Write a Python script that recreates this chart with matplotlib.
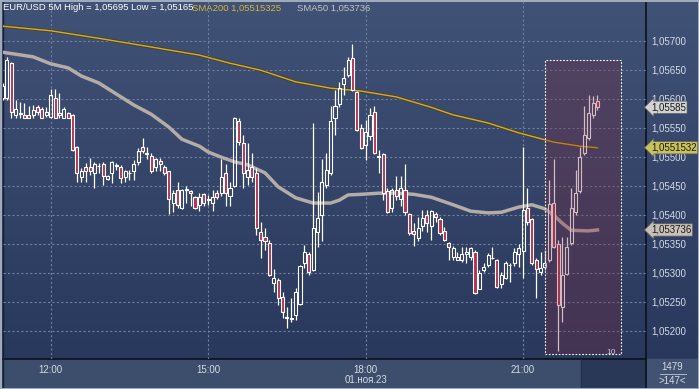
import matplotlib
matplotlib.use("Agg")
import matplotlib.pyplot as plt
import numpy as np
from matplotlib.patches import Rectangle
from matplotlib.colors import LinearSegmentedColormap
from matplotlib import font_manager
import matplotlib.transforms as mtransforms

# police étroite si disponible
names = {f.name for f in font_manager.fontManager.ttflist}
FONT = "Liberation Sans Narrow" if "Liberation Sans Narrow" in names else "Liberation Sans"
plt.rcParams["font.family"] = [FONT, "DejaVu Sans"]

# Données : bougies 5 min, index 0 = 12:00, la première bougie est à -11 (11:05)
first_bar = -11
opens = [
    1.05601, 1.05601, 1.05661, 1.05572, 1.05574, 1.05572, 1.05572, 1.05572, 1.05585, 1.05582,
    1.05572, 1.05568, 1.05601, 1.05572, 1.05567, 1.05575, 1.05572, 1.05517, 1.05465, 1.05482,
    1.05482, 1.05472, 1.05483, 1.05487, 1.05461, 1.05472, 1.05484, 1.05482, 1.05465, 1.05471,
    1.05475, 1.05491, 1.05517, 1.05505, 1.05501, 1.05482, 1.05492, 1.05482, 1.05475, 1.05420,
    1.05442, 1.05411, 1.05443, 1.05441, 1.05430, 1.05417, 1.05435, 1.05426, 1.05420, 1.05437,
    1.05437, 1.05472, 1.05432, 1.05449, 1.05561, 1.05523, 1.05465, 1.05482, 1.05472, 1.05370,
    1.05361, 1.05351, 1.05282, 1.05287, 1.05258, 1.05222, 1.05220, 1.05227, 1.05246, 1.05317,
    1.05332, 1.05304, 1.05370, 1.05399, 1.05451, 1.05472, 1.05567, 1.05591, 1.05625, 1.05641,
    1.05670, 1.05611, 1.05549, 1.05520, 1.05535, 1.05577, 1.05500, 1.05505, 1.05441, 1.05411,
    1.05442, 1.05427, 1.05442, 1.05401, 1.05372, 1.05360, 1.05380, 1.05399, 1.05380, 1.05401,
    1.05392, 1.05372, 1.05351, 1.05327, 1.05322, 1.05322, 1.05332, 1.05327, 1.05336, 1.05272,
    1.05304, 1.05313, 1.05325, 1.05322, 1.05280, 1.05291, 1.05313, 1.05317, 1.05332, 1.05337,
    1.05411, 1.05392, 1.05322, 1.05301, 1.05310, 1.05322, 1.05420, 1.05349, 1.05241, 1.05298,
    1.05351, 1.05404, 1.05441, 1.05506, 1.05532, 1.05572, 1.05596,
]
highs = [
    1.05627, 1.05672, 1.05663, 1.05598, 1.05594, 1.05592, 1.05587, 1.05589, 1.05589, 1.05585,
    1.05585, 1.05617, 1.05617, 1.05610, 1.05585, 1.05577, 1.05573, 1.05518, 1.05480, 1.05489,
    1.05498, 1.05491, 1.05489, 1.05491, 1.05468, 1.05492, 1.05489, 1.05485, 1.05477, 1.05477,
    1.05494, 1.05515, 1.05532, 1.05517, 1.05506, 1.05498, 1.05498, 1.05485, 1.05476, 1.05442,
    1.05456, 1.05444, 1.05449, 1.05442, 1.05432, 1.05437, 1.05437, 1.05434, 1.05442, 1.05442,
    1.05496, 1.05487, 1.05456, 1.05568, 1.05567, 1.05537, 1.05523, 1.05506, 1.05480, 1.05387,
    1.05377, 1.05356, 1.05306, 1.05291, 1.05267, 1.05241, 1.05256, 1.05273, 1.05313, 1.05348,
    1.05336, 1.05558, 1.05439, 1.05496, 1.05506, 1.05587, 1.05615, 1.05629, 1.05654, 1.05672,
    1.05695, 1.05613, 1.05556, 1.05563, 1.05584, 1.05587, 1.05511, 1.05506, 1.05446, 1.05446,
    1.05467, 1.05467, 1.05487, 1.05403, 1.05385, 1.05396, 1.05408, 1.05408, 1.05408, 1.05404,
    1.05396, 1.05379, 1.05353, 1.05346, 1.05336, 1.05344, 1.05344, 1.05344, 1.05339, 1.05304,
    1.05317, 1.05334, 1.05344, 1.05323, 1.05301, 1.05320, 1.05317, 1.05342, 1.05349, 1.05517,
    1.05446, 1.05394, 1.05325, 1.05336, 1.05339, 1.05460, 1.05496, 1.05356, 1.05361, 1.05361,
    1.05446, 1.05477, 1.05517, 1.05587, 1.05606, 1.05604, 1.05606,
]
lows = [
    1.05598, 1.05598, 1.05567, 1.05567, 1.05567, 1.05567, 1.05567, 1.05567, 1.05572, 1.05566,
    1.05568, 1.05567, 1.05566, 1.05567, 1.05566, 1.05566, 1.05510, 1.05456, 1.05456, 1.05456,
    1.05468, 1.05446, 1.05472, 1.05451, 1.05460, 1.05454, 1.05477, 1.05454, 1.05456, 1.05460,
    1.05460, 1.05485, 1.05506, 1.05496, 1.05472, 1.05475, 1.05475, 1.05468, 1.05401, 1.05404,
    1.05411, 1.05410, 1.05420, 1.05415, 1.05410, 1.05406, 1.05415, 1.05417, 1.05406, 1.05427,
    1.05432, 1.05415, 1.05415, 1.05448, 1.05520, 1.05446, 1.05451, 1.05456, 1.05365, 1.05325,
    1.05339, 1.05295, 1.05267, 1.05244, 1.05222, 1.05204, 1.05215, 1.05218, 1.05244, 1.05308,
    1.05296, 1.05303, 1.05344, 1.05354, 1.05446, 1.05468, 1.05537, 1.05585, 1.05606, 1.05637,
    1.05614, 1.05545, 1.05514, 1.05494, 1.05529, 1.05505, 1.05472, 1.05425, 1.05403, 1.05404,
    1.05425, 1.05415, 1.05399, 1.05365, 1.05346, 1.05354, 1.05372, 1.05370, 1.05356, 1.05387,
    1.05365, 1.05355, 1.05322, 1.05322, 1.05321, 1.05318, 1.05317, 1.05322, 1.05264, 1.05271,
    1.05301, 1.05310, 1.05324, 1.05273, 1.05273, 1.05289, 1.05284, 1.05311, 1.05310, 1.05291,
    1.05382, 1.05313, 1.05256, 1.05296, 1.05304, 1.05318, 1.05343, 1.05165, 1.05215, 1.05296,
    1.05348, 1.05399, 1.05437, 1.05503, 1.05529, 1.05567, 1.05580,
]
closes = [
    1.05622, 1.05667, 1.05577, 1.05582, 1.05576, 1.05567, 1.05567, 1.05580, 1.05577, 1.05567,
    1.05577, 1.05606, 1.05567, 1.05575, 1.05582, 1.05567, 1.05511, 1.05472, 1.05475, 1.05475,
    1.05475, 1.05487, 1.05484, 1.05467, 1.05467, 1.05491, 1.05485, 1.05463, 1.05475, 1.05472,
    1.05487, 1.05510, 1.05510, 1.05506, 1.05475, 1.05496, 1.05487, 1.05472, 1.05427, 1.05437,
    1.05417, 1.05442, 1.05444, 1.05437, 1.05411, 1.05430, 1.05420, 1.05427, 1.05430, 1.05430,
    1.05465, 1.05437, 1.05446, 1.05567, 1.05525, 1.05472, 1.05477, 1.05465, 1.05377, 1.05356,
    1.05354, 1.05296, 1.05291, 1.05256, 1.05232, 1.05224, 1.05222, 1.05267, 1.05311, 1.05336,
    1.05301, 1.05377, 1.05394, 1.05456, 1.05477, 1.05561, 1.05587, 1.05618, 1.05636, 1.05667,
    1.05615, 1.05546, 1.05515, 1.05542, 1.05572, 1.05506, 1.05501, 1.05437, 1.05404, 1.05442,
    1.05432, 1.05446, 1.05404, 1.05368, 1.05367, 1.05377, 1.05394, 1.05385, 1.05406, 1.05396,
    1.05368, 1.05356, 1.05344, 1.05342, 1.05327, 1.05332, 1.05336, 1.05342, 1.05265, 1.05299,
    1.05310, 1.05330, 1.05326, 1.05275, 1.05296, 1.05317, 1.05314, 1.05336, 1.05342, 1.05408,
    1.05387, 1.05317, 1.05306, 1.05308, 1.05317, 1.05418, 1.05344, 1.05244, 1.05296, 1.05344,
    1.05411, 1.05437, 1.05499, 1.05537, 1.05575, 1.05592, 1.05585,
]

# moyennes mobiles
sma200_bar = [-11, 0, 11, 23, 34, 41, 48, 56, 64, 71, 79, 87, 92, 100, 107, 115, 121, 125]
sma200_val = [1.05725, 1.05717, 1.05704, 1.05689, 1.05675, 1.05661, 1.05649, 1.05629, 1.05618,
              1.05613, 1.05603, 1.05585, 1.05572, 1.05558, 1.05541, 1.05525, 1.05518, 1.05515325]
sma50_bar = [-11, -4, 0, 4, 7, 11, 15, 19, 23, 27, 30, 34, 36, 39, 42, 45, 49, 52, 56, 60,
             64, 66, 68, 71, 75, 79, 83, 87, 92, 96, 100, 103, 107, 110, 113, 115, 117, 119, 123, 125]
sma50_val = [1.05680, 1.05672, 1.05660, 1.05653, 1.05639, 1.05627, 1.05608, 1.05589, 1.05573, 1.05551,
             1.05530, 1.05518, 1.05508, 1.05499, 1.05491, 1.05486, 1.05472, 1.05448, 1.05429, 1.05420,
             1.05420, 1.05425, 1.05434, 1.05435, 1.05437, 1.05437, 1.05435, 1.05430, 1.05417, 1.05406,
             1.05403, 1.05404, 1.05413, 1.05417, 1.05410, 1.05399, 1.05385, 1.05373, 1.05372, 1.053736]

time_ticks = [0, 36, 72, 108]
time_labels = ["12:00", "15:00", "18:00", "21:00"]
date_label = "01.ноя.23"
price_ticks = [1.052, 1.0525, 1.053, 1.0535, 1.054, 1.0545, 1.055, 1.0555, 1.056, 1.0565, 1.057]

# zone surlignée (bougies 113 -> fin)
hl_start, hl_end = 113.0, 130.4
hl_top, hl_bottom = 1.05667, 1.05160

small = 7.0 if FONT == "Liberation Sans" else 7.7
head = 6.8 if FONT == "Liberation Sans" else 7.5

W, H = 699, 389
fig = plt.figure(figsize=(W / 100, H / 100), dpi=100)

# fond en dégradé
bg = fig.add_axes([0, 0, 1, 1], zorder=0)
cmap = LinearSegmentedColormap.from_list("bg", ["#27365a", "#405276"])
bg.imshow(np.linspace(0, 1, 256).reshape(-1, 1)[::-1], aspect="auto", cmap=cmap,
          extent=[0, 1, 0, 1], origin="upper")
bg.set_xlim(0, 1)
bg.set_ylim(0, 1)
bg.axis("off")

# bandeau de l'axe du temps
bg.add_patch(Rectangle((3 / W, 0), 578 / W, 30 / H, color="#3d4e6c", zorder=2))
bg.add_patch(Rectangle((581 / W, 0), 65 / W, 30 / H, color="#2a3858", zorder=2))
bg.add_patch(Rectangle((646 / W, 0), 53 / W, 30 / H, color="#415272", zorder=2))

ax = fig.add_axes([3 / W, 30 / H, 643 / W, 358 / H], zorder=1)
ax.set_facecolor("none")
for s in ax.spines.values():
    s.set_visible(False)
ax.set_xlim(-10.9, 136.1)
ax.set_ylim(1.051511, 1.057683)

ax.set_yticks(price_ticks)
ax.set_yticklabels([f"{v:.5f}".replace(".", ",") for v in price_ticks])
ax.yaxis.tick_right()
ax.tick_params(axis="y", length=0, pad=4, labelsize=small, labelcolor="#d5dbe4")
ax.set_xticks(time_ticks)
ax.set_xticklabels(time_labels)
ax.tick_params(axis="x", length=0, pad=4, labelsize=small, labelcolor="#d5dbe4")
ax.grid(True, color="#6d809e", linestyle=(0, (2, 2)), linewidth=0.8)
ax.set_axisbelow(True)

# moyennes mobiles
ax.plot(sma200_bar, sma200_val, color="#4e4218", lw=2.2, zorder=2, solid_capstyle="butt")
ax.plot(sma200_bar, sma200_val, color="#d0ac3c", lw=1.0, zorder=2.1)
ax.plot(sma50_bar, sma50_val, color="#b4aca6", lw=2.5, zorder=2)

# bougies
w = 0.7
for k, (o, h, l, c) in enumerate(zip(opens, highs, lows, closes)):
    x = first_bar + k
    top, bot = max(o, c), min(o, c)
    ax.vlines(x, top, h, color="white", lw=0.9, zorder=3)
    ax.vlines(x, l, bot, color="white", lw=0.9, zorder=3)
    face = "#b8314f" if c < o else "none"
    ax.add_patch(Rectangle((x - w / 2, bot), w, top - bot, facecolor=face,
                           edgecolor="white", lw=0.8, zorder=3))

# zone surlignée
ax.add_patch(Rectangle((hl_start, hl_bottom), hl_end - hl_start, hl_top - hl_bottom,
                       facecolor="#7c2a40", alpha=0.32, edgecolor="none", zorder=4))
ax.add_patch(Rectangle((hl_start, hl_bottom), hl_end - hl_start, hl_top - hl_bottom,
                       facecolor="none", edgecolor="white", lw=0.8,
                       linestyle=(0, (1.5, 1.5)), zorder=4))
ax.text(hl_end - 2.2, hl_bottom + 0.00003, "10", fontsize=6, color="#c8ccd8",
        ha="center", va="center", zorder=5)

# étiquettes de prix à droite
trans = mtransforms.blended_transform_factory(ax.transAxes, ax.transData)
markers = [(closes[-1], "1,05585", "#d2d2d2"),
           (sma200_val[-1], "1,0551532", "#c9c25a"),
           (sma50_val[-1], "1,053736", "#c8c0b6")]
for val, txt, fc in markers:
    ax.text(1 + 5 / 643, val, txt, transform=trans, fontsize=small, color="#1a1a1a",
            ha="left", va="center", clip_on=False, zorder=6,
            bbox=dict(boxstyle="larrow,pad=0.12", fc=fc, ec="#606060", lw=0.5))

# date sous 18:00
ax.text(72, -0.06, date_label,
        transform=mtransforms.blended_transform_factory(ax.transData, ax.transAxes),
        fontsize=small, color="#d5dbe4", ha="center", va="center", clip_on=False)

# en-tête
fig.text(3 / W, 1 - 8 / H, "EUR/USD 5M High = 1,05695 Low = 1,05165", fontsize=head,
         color="white", va="center", ha="left")
fig.text(192 / W, 1 - 8 / H, "SMA200 1,05515325", fontsize=head, color="#d8b23c",
         va="center", ha="left")
fig.text(297 / W, 1 - 8 / H, "SMA50 1,053736", fontsize=head, color="#c4c4c4",
         va="center", ha="left")

# coin bas droite
fig.text(672 / W, 1 - 367 / H, "1479", fontsize=small, color="#d5dbe4", ha="center", va="center")
fig.text(672 / W, 1 - 381 / H, ">147<", fontsize=small, color="#d5dbe4", ha="center", va="center")
bg.plot([660 / W, 686 / W], [1 - 374 / H] * 2, color="#c0c8d4", lw=0.6, zorder=3)

# séparateurs et cadre
bg.plot([646 / W, 646 / W], [0, 1], color="#0c111a", lw=1.2, zorder=3)
bg.plot([3 / W, 646 / W], [30 / H, 30 / H], color="#0c111a", lw=1.2, zorder=3)
bg.plot([581 / W, 581 / W], [0, 30 / H], color="#222e48", lw=0.8, zorder=3)
bg.plot([2.5 / W, 2.5 / W], [0, 1], color="#18202e", lw=1, zorder=3)
bg.add_patch(Rectangle((0, 0), 1, 1, fill=False, edgecolor="#9eabbc", lw=2.2, zorder=4))

fig.savefig("out.png", dpi=100)
